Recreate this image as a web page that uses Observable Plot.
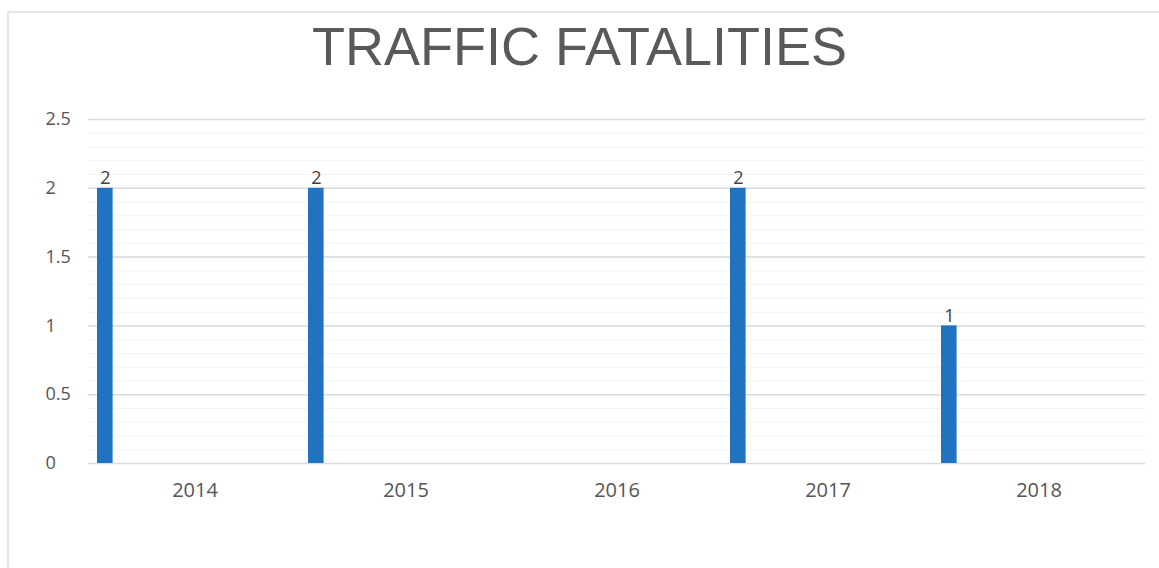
<!DOCTYPE html>
<html>
<head>
<meta charset="utf-8">
<script src="https://cdn.jsdelivr.net/npm/d3@7"></script>
<script src="https://cdn.jsdelivr.net/npm/@observablehq/plot@0.6"></script>
<style>
  html, body { margin: 0; padding: 0; background: #ffffff; }
  #wrap { position: relative; width: 1159px; height: 568px; overflow: hidden; }
  #frameTop { position: absolute; left: 8px; top: 11px; width: 1151px; height: 2px; background: #e2e4e6; }
  #frameLeft { position: absolute; left: 7px; top: 11px; width: 2px; height: 557px; background: #e6e8ea; }
  #title { position: relative; height: 95px; box-sizing: border-box; padding-top: 19px;
           font-family: "Liberation Sans", Arial, sans-serif; font-size: 54px; line-height: 54px;
           color: #595959; text-align: center; }
  #chart svg { display: block; }
</style>
</head>
<body>
<div id="wrap">
  <div id="frameTop"></div>
  <div id="frameLeft"></div>
  <div id="title">TRAFFIC FATALITIES</div>
  <div id="chart"></div>
</div>
<script>
const years = ["2014", "2015", "2016", "2017", "2018"];
const fatalities = [2, 2, null, 2, 1];
const yTicks = [0, 0.5, 1, 1.5, 2, 2.5];
const yTickLabels = ["0", "0.5", "1", "1.5", "2", "2.5"];
const minorTicks = d3.ticks(0, 2.5, 25);

const W = 1159, H = 473;
const mL = 88, mR = 14;
const bw = (W - mL - mR) / years.length;
const barW = 16, barInset = 8;

const data = years.map((y, i) => ({year: y, value: fatalities[i]})).filter(d => d.value != null);

const chart = Plot.plot({
  width: W,
  height: H,
  marginLeft: mL,
  marginRight: mR,
  marginTop: 24,
  marginBottom: 105,
  x: {type: "band", domain: years, padding: 0, label: null},
  y: {domain: [0, 2.5], label: null},
  style: {fontFamily: "'Open Sans', sans-serif", background: "transparent", overflow: "visible"},
  marks: [
    Plot.ruleY(minorTicks, {stroke: "#f1f3f5", strokeWidth: 1}),
    Plot.ruleY(yTicks, {stroke: "#d6dce3", strokeWidth: 1.5}),
    Plot.axisY(yTicks, {tickSize: 0, tickPadding: 43, textAnchor: "start", fontSize: 18, fill: "#555555",
      tickFormat: d => yTickLabels[yTicks.indexOf(d)], label: null}),
    Plot.axisX({tickSize: 0, tickPadding: 19, fontSize: 20, fill: "#555555", label: null}),
    Plot.barY(data, {x: "year", y: "value", fill: "#2173bf", insetLeft: barInset, insetRight: bw - barInset - barW}),
    Plot.text(data, {x: "year", y: "value", text: d => String(d.value), dx: barInset + barW / 2 - bw / 2, dy: -4,
      lineAnchor: "bottom", fontSize: 18, fill: "#404040"})
  ]
});
document.getElementById("chart").appendChild(chart);
</script>
</body>
</html>
